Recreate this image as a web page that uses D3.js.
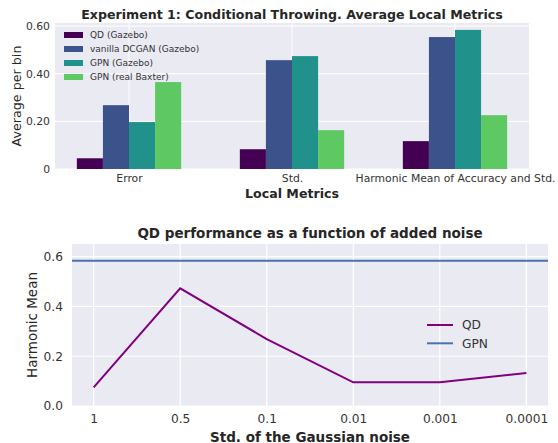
<!DOCTYPE html>
<html><head><meta charset="utf-8">
<script src="https://cdn.jsdelivr.net/npm/d3@7"></script>
<style>body{margin:0;background:#fff}svg{display:block;font-family:"DejaVu Sans",sans-serif}</style>
</head><body><svg id="c" width="558" height="443"></svg>
<script>
// Top chart data
const metrics = ["Error", "Std.", "Harmonic Mean of Accuracy and Std."];
const seriesNames = ["QD (Gazebo)", "vanilla DCGAN (Gazebo)", "GPN (Gazebo)", "GPN (real Baxter)"];
const qdGazebo = [0.045, 0.083, 0.117];
const dcganGazebo = [0.268, 0.457, 0.554];
const gpnGazebo = [0.197, 0.474, 0.584];
const gpnBaxter = [0.365, 0.163, 0.226];
const barColors = ["#440154", "#3b528b", "#21918c", "#5ec962"];
const yTicksTop = [0, 0.2, 0.4, 0.6];
const yTickLabelsTop = ["0", "0.20", "0.40", "0.60"];

// Bottom chart data
const noiseLabels = ["1", "0.5", "0.1", "0.01", "0.001", "0.0001"];
const qdNoise = [0.075, 0.473, 0.269, 0.095, 0.095, 0.133];
const gpnLevel = 0.584;
const yTicksBottom = [0.0, 0.2, 0.4, 0.6];

const svg = d3.select("#c");
const bg = "#eaeaf2", txt = "#262626", tick = "#333333";

// ---------- Top chart ----------
const T = {l:55, r:529, t:23, b:169};
const xT = d3.scaleLinear().domain([-0.454, 2.454]).range([T.l, T.r]);
const yT = d3.scaleLinear().domain([0, 0.613]).range([T.b, T.t]);
const gT = svg.append("g");
gT.append("rect").attr("x", T.l).attr("y", T.t).attr("width", T.r - T.l).attr("height", T.b - T.t).attr("fill", bg);
gT.selectAll(".hg").data(yTicksTop).join("line").attr("x1", T.l).attr("x2", T.r)
  .attr("y1", d => yT(d)).attr("y2", d => yT(d)).attr("stroke", "#fff").attr("stroke-width", 1);
gT.selectAll(".vg").data(metrics).join("line").attr("y1", T.t).attr("y2", T.b)
  .attr("x1", (d, i) => xT(i)).attr("x2", (d, i) => xT(i)).attr("stroke", "#fff").attr("stroke-width", 1);
const allSeries = [qdGazebo, dcganGazebo, gpnGazebo, gpnBaxter];
const bw = 0.16;
allSeries.forEach((s, si) => {
  gT.selectAll(".b" + si).data(s).join("rect")
    .attr("x", (d, i) => xT(i - 2 * bw + si * bw))
    .attr("width", xT(bw) - xT(0))
    .attr("y", d => yT(d)).attr("height", d => yT(0) - yT(d))
    .attr("fill", barColors[si]);
});
const axT = d3.axisLeft(yT).tickValues(yTicksTop).tickFormat((d, i) => yTickLabelsTop[i]).tickSize(0).tickPadding(5);
gT.append("g").attr("transform", `translate(${T.l},0)`).call(axT)
  .call(g => g.select(".domain").remove())
  .selectAll("text").attr("font-size", 10.8).attr("fill", tick).attr("font-family", "DejaVu Sans");
const axTx = d3.axisBottom(xT).tickValues([0, 1, 2]).tickFormat((d) => metrics[d]).tickSize(0).tickPadding(5);
gT.append("g").attr("transform", `translate(0,${T.b})`).call(axTx)
  .call(g => g.select(".domain").remove())
  .selectAll("text").attr("font-size", 10.8).attr("fill", tick).attr("font-family", "DejaVu Sans");
svg.append("text").attr("x", (T.l + T.r) / 2).attr("y", 19).attr("text-anchor", "middle")
  .attr("font-size", 12.6).attr("font-weight", "bold").attr("fill", txt)
  .text("Experiment 1: Conditional Throwing. Average Local Metrics");
svg.append("text").attr("x", (T.l + T.r) / 2).attr("y", 197.5).attr("text-anchor", "middle")
  .attr("font-size", 12.6).attr("font-weight", "bold").attr("fill", txt).text("Local Metrics");
svg.append("text").attr("transform", `translate(20.5,${(T.t + T.b) / 2}) rotate(-90)`).attr("text-anchor", "middle")
  .attr("font-size", 12.7).attr("fill", txt).text("Average per bin");
const legT = gT.append("g");
seriesNames.forEach((n, i) => {
  const y = 35 + i * 14;
  legT.append("rect").attr("x", 64).attr("y", y - 3).attr("width", 19).attr("height", 6).attr("fill", barColors[i]);
  legT.append("text").attr("x", 90).attr("y", y + 3.2).attr("font-size", 9).attr("fill", tick).text(n);
});

// ---------- Bottom chart ----------
const B = {l:72, r:548, t:244, b:406};
const xB = d3.scaleLinear().domain([-0.25, 5.25]).range([B.l, B.r]);
const yB = d3.scaleLinear().domain([0, 0.651]).range([B.b, B.t]);
const gB = svg.append("g");
gB.append("rect").attr("x", B.l).attr("y", B.t).attr("width", B.r - B.l).attr("height", B.b - B.t).attr("fill", bg);
gB.selectAll(".hg").data(yTicksBottom).join("line").attr("x1", B.l).attr("x2", B.r)
  .attr("y1", d => yB(d)).attr("y2", d => yB(d)).attr("stroke", "#fff").attr("stroke-width", 1.2);
gB.selectAll(".vg").data(noiseLabels).join("line").attr("y1", B.t).attr("y2", B.b)
  .attr("x1", (d, i) => xB(i)).attr("x2", (d, i) => xB(i)).attr("stroke", "#fff").attr("stroke-width", 1.2);
gB.append("line").attr("x1", B.l).attr("x2", B.r).attr("y1", yB(gpnLevel)).attr("y2", yB(gpnLevel))
  .attr("stroke", "#4c72b0").attr("stroke-width", 2);
gB.append("path").datum(qdNoise).attr("fill", "none").attr("stroke", "#800080").attr("stroke-width", 2)
  .attr("d", d3.line().x((d, i) => xB(i)).y(d => yB(d)));
const axBy = d3.axisLeft(yB).tickValues(yTicksBottom).tickFormat(d3.format(".1f")).tickSize(0).tickPadding(9);
gB.append("g").attr("transform", `translate(${B.l},0)`).call(axBy)
  .call(g => g.select(".domain").remove())
  .selectAll("text").attr("font-size", 12.2).attr("fill", tick).attr("font-family", "DejaVu Sans");
const axBx = d3.axisBottom(xB).tickValues(d3.range(noiseLabels.length)).tickFormat(i => noiseLabels[i]).tickSize(0).tickPadding(8);
gB.append("g").attr("transform", `translate(0,${B.b})`).call(axBx)
  .call(g => g.select(".domain").remove())
  .selectAll("text").attr("font-size", 12.2).attr("fill", tick).attr("font-family", "DejaVu Sans");
svg.append("text").attr("x", (B.l + B.r) / 2).attr("y", 237.5).attr("text-anchor", "middle")
  .attr("font-size", 13.5).attr("font-weight", "bold").attr("fill", txt)
  .text("QD performance as a function of added noise");
svg.append("text").attr("x", (B.l + B.r) / 2).attr("y", 441.5).attr("text-anchor", "middle")
  .attr("font-size", 13.5).attr("font-weight", "bold").attr("fill", txt).text("Std. of the Gaussian noise");
svg.append("text").attr("transform", `translate(36.5,${(B.t + B.b) / 2}) rotate(-90)`).attr("text-anchor", "middle")
  .attr("font-size", 13.5).attr("fill", txt).text("Harmonic Mean");
const legB = [["QD", "#800080"], ["GPN", "#4c72b0"]];
legB.forEach(([n, c], i) => {
  const y = 325 + i * 18.3;
  gB.append("line").attr("x1", 427).attr("x2", 453).attr("y1", y).attr("y2", y).attr("stroke", c).attr("stroke-width", 2);
  gB.append("text").attr("x", 462).attr("y", y + 4.4).attr("font-size", 12.2).attr("fill", tick).text(n);
});
</script></body></html>
